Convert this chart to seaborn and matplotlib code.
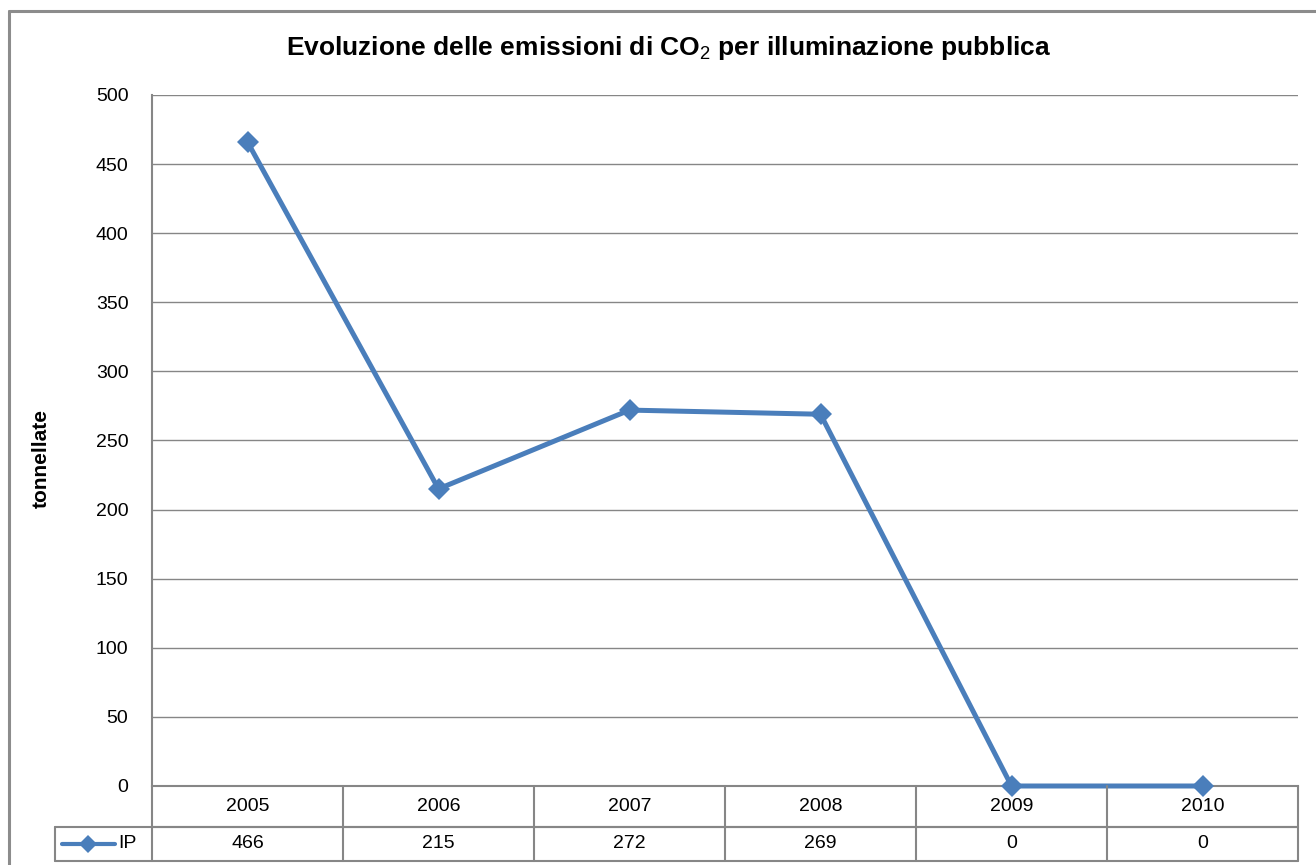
import matplotlib
matplotlib.use("Agg")
import matplotlib.pyplot as plt
from matplotlib.lines import Line2D
import seaborn as sns
import pandas as pd

# --- data -------------------------------------------------------------
years = ["2005", "2006", "2007", "2008", "2009", "2010"]
ip_values = [466, 215, 272, 269, 0, 0]
series_name = "IP"
y_ticks = [0, 50, 100, 150, 200, 250, 300, 350, 400, 450, 500]
title_text = r"Evoluzione delle emissioni di CO$_2$ per illuminazione pubblica"
y_label = "tonnellate"

# --- style ------------------------------------------------------------
BLUE = "#4A7EBB"
GRID = "#868686"
FRAME = "#8C8C8C"

sns.set_theme(style="white")
plt.rcParams["font.family"] = ["Liberation Sans", "DejaVu Sans"]
plt.rcParams["mathtext.fontset"] = "custom"
plt.rcParams["mathtext.rm"] = "Liberation Sans"
plt.rcParams["mathtext.it"] = "Liberation Sans:bold"
plt.rcParams["mathtext.bf"] = "Liberation Sans:bold"
plt.rcParams["mathtext.default"] = "rm"

W, H = 1316, 865
fig = plt.figure(figsize=(W / 100, H / 100), dpi=100)
fig.patch.set_facecolor("white")


def fx(px):
    return px / W


def fy(py):
    return 1 - py / H


# plot area
ax = fig.add_axes([fx(152), fy(786), fx(1298) - fx(152), fy(95) - fy(786)])

df = pd.DataFrame({"anno": years, "tonnellate": ip_values})
sns.lineplot(data=df, x="anno", y="tonnellate", ax=ax, color=BLUE,
             linewidth=3.6, marker="D", markersize=11, markeredgewidth=0,
             sort=False)
for ln in ax.lines:
    ln.set_clip_on(False)
    ln.set_zorder(5)

ax.set_xlim(-0.5, len(years) - 0.5)
ax.set_ylim(0, 500)
ax.set_yticks(y_ticks)
ax.set_xticks([])
ax.set_xlabel("")
ax.set_ylabel("")
ax.yaxis.grid(True, color=GRID, linewidth=1.0)
ax.xaxis.grid(False)
ax.tick_params(axis="y", length=0, pad=17, labelsize=14, labelcolor="black")
for side in ("top", "right"):
    ax.spines[side].set_visible(False)
for side in ("left", "bottom"):
    ax.spines[side].set_color(GRID)
    ax.spines[side].set_linewidth(1.5)

# title and axis label
fig.text(fx(669), fy(48), title_text, ha="center", va="center",
         fontsize=19, fontweight="bold", color="black")
fig.text(fx(41), fy(459), y_label, rotation=90, ha="center", va="center",
         fontsize=15, fontweight="bold", color="black")

# --- data table below the plot -----------------------------------------
to_fig = ax.transData + fig.transFigure.inverted()


def data_x(xv):
    return to_fig.transform((xv, 0))[0]


r_top, r_mid, r_bot = fy(786), fy(827), fy(861)
x_left = data_x(-0.5)
x_right = data_x(len(years) - 0.5)
leg_left = fx(55)

tbl_kw = dict(color=GRID, linewidth=1.5, transform=fig.transFigure)
fig.add_artist(Line2D([x_left, x_right], [r_mid, r_mid], **tbl_kw))
fig.add_artist(Line2D([leg_left, x_right], [r_mid, r_mid], **tbl_kw))
fig.add_artist(Line2D([leg_left, x_right], [r_bot, r_bot], **tbl_kw))
fig.add_artist(Line2D([leg_left, leg_left], [r_mid, r_bot], **tbl_kw))
for k in range(len(years) + 1):
    xb = data_x(k - 0.5)
    fig.add_artist(Line2D([xb, xb], [r_top, r_bot], **tbl_kw))

for i, (yr, val) in enumerate(zip(years, ip_values)):
    xc = data_x(i)
    fig.text(xc, (r_top + r_mid) / 2, yr, ha="center", va="center",
             fontsize=14, color="black")
    fig.text(xc, (r_mid + r_bot) / 2, str(val), ha="center", va="center",
             fontsize=14, color="black")

# legend key in the table's row header
row_c = (r_mid + r_bot) / 2
fig.add_artist(Line2D([fx(62), fx(115)], [row_c, row_c], color=BLUE,
                      linewidth=3.0, transform=fig.transFigure))
fig.add_artist(Line2D([fx(88)], [row_c], color=BLUE, marker="D",
                      markersize=9, markeredgewidth=0,
                      transform=fig.transFigure))
fig.text(fx(118), row_c, series_name, ha="left", va="center",
         fontsize=14, color="black")

# chart frame
frame_kw = dict(color=FRAME, linewidth=2.2, transform=fig.transFigure)
fig.add_artist(Line2D([fx(9), fx(9)], [fy(11), -0.01], **frame_kw))
fig.add_artist(Line2D([fx(9), 1.01], [fy(11), fy(11)], **frame_kw))

fig.savefig("out.png", dpi=100)
